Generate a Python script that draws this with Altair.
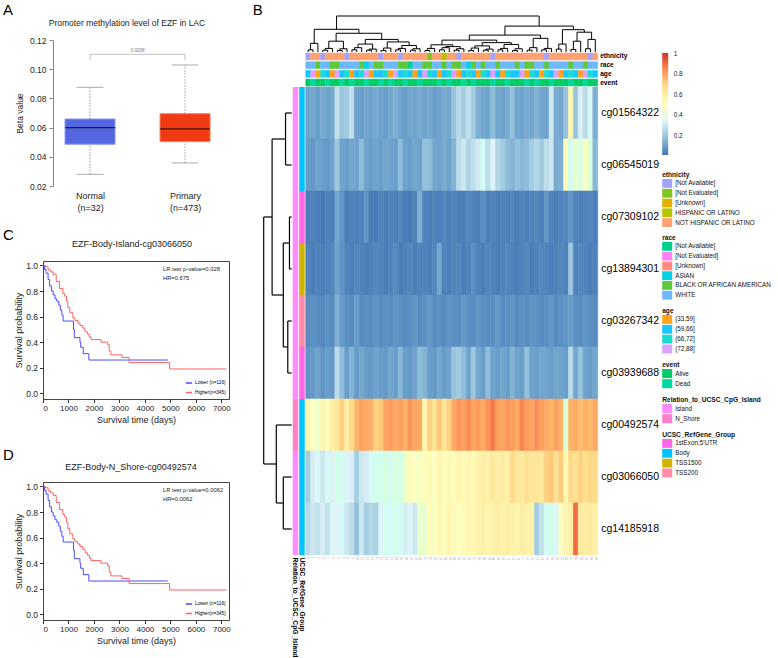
import altair as alt
import numpy as np
import pandas as pd

FONT = "Liberation Sans"

# ---------------- Panel A: promoter methylation box plot ----------------
A_TITLE = "Promoter methylation level of EZF in LAC"
A_GROUPS = ["Normal", "Primary"]
A_N = [32, 473]
A_LOW = [0.0280, 0.0358]
A_Q1 = [0.0486, 0.0504]
A_MED = [0.0600, 0.0591]
A_Q3 = [0.0659, 0.0695]
A_HIGH = [0.0876, 0.1029]
A_PVAL = "0.0208"
A_BRACKET_TOP = 0.1102
A_BRACKET_BOTTOM = 0.1063
A_YTICKS = [0.02, 0.04, 0.06, 0.08, 0.10, 0.12]
A_FILL = ["#5567E0", "#F03A12"]
A_EDGE = ["#8C98F0", "#F87A5C"]

# ---------------- Panels C / D: Kaplan-Meier ----------------
KM_GROUPS = ["Lower (n=116)", "Higher(n=345)"]
KM_COLORS = ["#3838FF", "#FF5252"]
LOW_T = [0, 60, 120, 200, 260, 330, 400, 470, 540, 620, 680, 740, 790, 1170, 1200,
         1230, 1420, 1450, 1480, 1560, 1580, 1780, 1800, 4900]
LOW_S = [1.0, 0.97, 0.94, 0.89, 0.84, 0.80, 0.77, 0.74, 0.72, 0.69, 0.65, 0.61, 0.565,
         0.565, 0.50, 0.435, 0.435, 0.40, 0.36, 0.36, 0.31, 0.31, 0.26, 0.26]
HIGH_T = [0, 100, 200, 300, 400, 520, 650, 780, 850, 920, 975, 1050, 1170, 1250, 1365,
          1450, 1560, 1650, 1755, 1820, 1885, 2275, 2535, 2600, 2665, 3100, 3380, 4970, 7200]
HIGH_S = [1.0, 0.99, 0.965, 0.95, 0.93, 0.875, 0.82, 0.78, 0.76, 0.72, 0.67, 0.63, 0.59,
          0.57, 0.55, 0.53, 0.51, 0.48, 0.46, 0.44, 0.42, 0.40, 0.38, 0.33, 0.30, 0.28,
          0.24, 0.19, 0.19]
KM_XTICKS = [0, 1000, 2000, 3000, 4000, 5000, 6000, 7000]
KM_YTICKS = [0.0, 0.2, 0.4, 0.6, 0.8, 1.0]
C_TITLE = "EZF-Body-Island-cg03066050"
C_STATS = ["LR test p-value=0.028", "HR=0.675"]
D_TITLE = "EZF-Body-N_Shore-cg00492574"
D_STATS = ["LR test p-value=0.0062", "HR=0.0062"]

# ---------------- Panel B: heatmap ----------------
PROBES = ["cg01564322", "cg06545019", "cg07309102", "cg13894301", "cg03267342",
          "cg03939688", "cg00492574", "cg03066050", "cg14185918"]
BETA_CG01564322 = [0.11,0.12,0.10,0.13,0.11,0.12, 0.28,0.19,0.21,0.28, 0.11,0.10,0.12,0.11,0.13,0.11,0.10,0.12,0.14,0.11,
                   0.10,0.12,0.11,0.13,0.11,0.12,0.10,0.11,0.13,0.12, 0.19,0.26,0.22,0.28,0.21, 0.14,0.12,0.11,0.17,0.12,
                   0.11,0.13,0.18,0.12,0.11, 0.13,0.12,0.15,0.12,0.11, 0.30,0.13,0.12,0.19,0.55,0.19,0.33,0.26,0.36,0.14]
BETA_CG06545019 = [0.10,0.09,0.11,0.10,0.09,0.11, 0.20, 0.11,0.10,0.12,0.11,0.17,0.11, 0.10,0.11,0.10,0.12,0.11,0.10,0.17,
                   0.11,0.10,0.12,0.11,0.18, 0.17,0.12,0.11,0.13,0.11,0.15, 0.27,0.30,0.24,0.28,0.31,0.40,0.27,0.35,0.25,0.22,
                   0.17,0.15,0.18,0.16,0.17, 0.22,0.25,0.21,0.27, 0.30,0.13,0.14, 0.52,0.40,0.48,0.43,0.50,0.45, 0.16]
BETA_CG07309102 = [0.03,0.04,0.03,0.02,0.04,0.03,0.12,0.08,0.03,0.04, 0.03,0.04,0.08,0.03,0.02,0.04,0.03,0.04,0.03,0.05,
                   0.03,0.02,0.04,0.14,0.04,0.03,0.04,0.03,0.05,0.03, 0.04,0.03,0.03,0.05,0.04,0.03,0.07,0.03,0.04,0.03,
                   0.04,0.03,0.05,0.03,0.04,0.03,0.04,0.05,0.03,0.08, 0.04,0.03,0.04,0.05,0.08,0.04,0.03,0.04,0.05,0.03]
BETA_CG13894301 = [0.04,0.03,0.04,0.03,0.04,0.05,0.11,0.08,0.04,0.03, 0.05,0.04,0.03,0.04,0.05,0.04,0.03,0.04,0.06,0.03,
                   0.04,0.05,0.03,0.04,0.04,0.03,0.05,0.12,0.04,0.03, 0.04,0.05,0.03,0.04,0.07,0.04,0.03,0.05,0.04,0.03,
                   0.04,0.05,0.04,0.03,0.04,0.05,0.03,0.04,0.05,0.04, 0.03,0.04,0.05,0.04,0.20,0.04,0.05,0.04,0.03,0.04]
BETA_CG03267342 = [0.06,0.07,0.06,0.05,0.07,0.06,0.14,0.09,0.07,0.06, 0.10,0.06,0.07,0.06,0.08,0.06,0.07,0.06,0.08,0.07,
                   0.06,0.07,0.08,0.06,0.07,0.09,0.06,0.07,0.06,0.08, 0.07,0.06,0.09,0.07,0.06,0.08,0.07,0.06,0.07,0.09,
                   0.06,0.07,0.08,0.06,0.07,0.06,0.08,0.07,0.06,0.07, 0.09,0.06,0.07,0.08,0.10,0.07,0.06,0.08,0.07,0.06]
BETA_CG03939688 = [0.08,0.09,0.11,0.08,0.10,0.09,0.26,0.17,0.10,0.15, 0.09,0.12,0.10,0.09,0.11,0.10,0.09,0.12,0.10,0.16,
                   0.10,0.09,0.11,0.17,0.15,0.10,0.09,0.12,0.10,0.11, 0.19,0.21,0.17,0.11,0.20,0.12,0.10,0.17,0.11,0.10,
                   0.12,0.10,0.15,0.11,0.10,0.18,0.11,0.10,0.12,0.11, 0.10,0.12,0.11,0.10,0.26,0.12,0.19,0.11,0.10,0.12]
BETA_CG00492574 = [0.55,0.50,0.48,0.55,0.52,0.60, 0.62,0.70,0.60,0.68, 0.76,0.80,0.78,0.77,0.70,0.72,0.79,0.81,0.78,0.80,
                   0.77,0.82,0.79,0.78, 0.55,0.70,0.66,0.72,0.64,0.70, 0.78,0.82,0.80,0.84,0.79,0.81,0.78,0.83,0.87,0.80,
                   0.79,0.82,0.80,0.78,0.85,0.81,0.79,0.83,0.80, 0.78,0.76,0.80,0.77, 0.45, 0.76,0.78,0.74,0.77,0.75,0.78]
BETA_CG03066050 = [0.22,0.32,0.36,0.30,0.38,0.34, 0.42,0.40,0.35,0.33, 0.22,0.30,0.32, 0.38,0.42,0.40,0.44,0.39,0.45,0.42,
                   0.48,0.52,0.50,0.49,0.52, 0.53,0.50,0.55,0.52,0.54,0.51,0.56,0.53,0.55,0.52, 0.57,0.60,0.58,0.62,0.59,
                   0.61,0.58, 0.68,0.63,0.62,0.66,0.64,0.65,0.62, 0.70,0.72,0.66,0.71, 0.55, 0.68,0.66,0.70,0.67,0.69,0.68]
BETA_CG14185918 = [0.26,0.30,0.28,0.32,0.28,0.36,0.34,0.37,0.30,0.27, 0.18,0.30,0.22,0.25,0.23,0.35,0.40,0.38,0.42,0.39,
                   0.32,0.35,0.30,0.48,0.47, 0.52,0.50,0.54,0.51,0.55,0.52,0.50,0.53,0.55,0.54, 0.57,0.59,0.56,0.58,0.60,
                   0.57,0.59,0.58,0.56,0.60,0.58,0.57, 0.22,0.28,0.40,0.42,0.36,0.50,0.56,0.58,0.90,0.62,0.60,0.61,0.59]
BETA_ROWS = [BETA_CG01564322, BETA_CG06545019, BETA_CG07309102, BETA_CG13894301, BETA_CG03267342,
             BETA_CG03939688, BETA_CG00492574, BETA_CG03066050, BETA_CG14185918]
HEAT_MIN, HEAT_MAX = 0.01, 1.0
HEAT_COLORS = ["#4575B4", "#91BFDB", "#E0F3F8", "#FFFFBF", "#FEE090", "#FC8D59", "#D73027"]
CB_TICKS = [0.2, 0.4, 0.6, 0.8, 1.0]

# row annotations
RELATION = ["Island", "Island", "Island", "Island", "Island", "Island", "N_Shore", "Island", "Island"]
REFGENE = ["Body", "Body", "1stExon;5'UTR", "TSS1500", "TSS200", "1stExon;5'UTR", "Body", "Body", "Body"]

# column annotations (category codes per column)
ETHNICITY = [0,4,4,0,4,4,4,4,0,4, 4,4,4,4,4,0,4,4,4,0, 4,4,4,4,4,1,4,4,3,4,
             4,0,4,4,4,4,4,4,0,4, 4,4,4,4,4,4,4,4,4,0, 4,4,4,4,4,4,4,4,0,4]
RACE = [5,5,4,5,5,4,4,5,5,5, 5,4,3,5,4,4,5,5,5,4, 4,0,5,5,4,4,5,5,4,5,
        4,4,5,3,4,5,4,5,5,4, 5,5,5,4,5,4,4,5,5,4, 5,5,5,5,4,5,5,4,5,5]
AGE = [1,3,0,2,1,0,3,1,2,0, 1,2,3,0,1,1,2,0,3,1, 2,1,0,1,3,2,1,0,1,2,
       3,0,1,2,1,0,2,1,3,1, 0,2,1,1,3,0,2,1,0,2, 1,3,0,1,2,1,0,3,2,1]
EVENT = [0,1,0,0,1,0,0,1,0,1, 0,0,1,0,0,1,0,1,0,0, 1,0,0,1,0,0,0,1,0,1,
         0,0,1,0,1,0,0,0,1,0, 0,1,0,0,0,1,0,1,0,0, 1,0,0,0,1,0,0,1,0,0]

ETH_LEVELS = ["[Not Available]", "[Not Evaluated]", "[Unknown]", "HISPANIC OR LATINO", "NOT HISPANIC OR LATINO"]
ETH_COLORS = ["#A4A4F8", "#80C41C", "#E2B000", "#B4C400", "#FFA070"]
RACE_LEVELS = ["[Not Available]", "[Not Evaluated]", "[Unknown]", "ASIAN", "BLACK OR AFRICAN AMERICAN", "WHITE"]
RACE_COLORS = ["#00D08A", "#FF80F5", "#FF8A80", "#00D2E6", "#5EC83C", "#6CB8FF"]
AGE_LEVELS = ["(33,59]", "(59,66]", "(66,72]", "(72,88]"]
AGE_COLORS = ["#FFA41A", "#1AC6FF", "#1ADCD0", "#D7A3FF"]
EVENT_LEVELS = ["Alive", "Dead"]
EVENT_COLORS = ["#00CC66", "#00D9A0"]
REL_LEVELS = ["Island", "N_Shore"]
REL_COLORS = ["#FF8CFF", "#FF80C8"]
REFG_LEVELS = ["1stExon;5'UTR", "Body", "TSS1500", "TSS200"]
REFG_COLORS = ["#FF66E6", "#00C4FF", "#CCB400", "#FF8AAA"]

# dendrograms: small 3-leaf clusters (first leaf, inner height, outer height)
TOP_CLUSTERS = [(0, 0.06, 0.24), (3, 0.05, 0.10), (6, 0.04, 0.09), (9, 0.06, 0.12), (12, 0.05, 0.08),
                (15, 0.04, 0.11), (18, 0.06, 0.10), (21, 0.05, 0.09), (24, 0.04, 0.10), (27, 0.06, 0.12),
                (30, 0.05, 0.09), (33, 0.04, 0.11), (36, 0.05, 0.08), (39, 0.06, 0.10), (42, 0.04, 0.09),
                (45, 0.05, 0.12), (48, 0.06, 0.10), (51, 0.08, 0.22), (54, 0.07, 0.30), (57, 0.09, 0.35)]
# upper structure built on cluster indices: [height, left, right]
TOP_TREE = [1.0,
            [0.63, 0, [0.52, [0.30, 1, 2], [0.35, [0.22, 3, 4], [0.28, 5, [0.18, 6, 7]]]]],
            [0.72,
             [0.47,
              [0.33, [0.20, 8, [0.15, 9, 10]], [0.26, [0.17, 11, 12], [0.21, 13, 14]]],
              [0.38, 15, 16]],
             [0.62, 17, [0.55, 18, 19]]]]
ROW_TREE = [1.0, [0.70, [0.22, 0, 1], [0.30, [0.08, 2, 3], [0.14, 4, 5]]], [0.55, 6, [0.30, 7, 8]]]

NCOL = len(BETA_CG01564322)


# ---------------- helpers ----------------
IND = dict(color="independent", stroke="independent")


def vflush(*charts):
    return alt.vconcat(*charts, spacing=0, bounds="flush").resolve_scale(**IND)


def blank(w, h):
    return alt.Chart(pd.DataFrame({"z": [0]})).mark_rect(opacity=0).encode(
        x=alt.value(0), x2=alt.value(w), y=alt.value(0), y2=alt.value(h)).properties(width=w, height=h)


def letter(ch, dx, dy):
    return alt.Chart(pd.DataFrame({"t": [ch]})).mark_text(
        fontSize=15, font=FONT, align="left", baseline="alphabetic", color="black"
    ).encode(text="t:N", x=alt.value(dx), y=alt.value(dy))


def panel_title(text, cx, cy, size):
    return alt.Chart(pd.DataFrame({"t": [text]})).mark_text(
        fontSize=size, font=FONT, align="center", baseline="middle", color="#222"
    ).encode(text="t:N", x=alt.value(cx), y=alt.value(cy))


def expand_top(node):
    if isinstance(node, int):
        a, h_in, h_out = TOP_CLUSTERS[node]
        return [h_out, [h_in, a, a + 1], a + 2]
    h, l, r = node
    return [h, expand_top(l), expand_top(r)]


def dendro_segments(tree):
    segs = []

    def walk(n):
        if isinstance(n, int):
            return n + 0.5, 0.0
        h, l, r = n
        pl, hl = walk(l)
        pr, hr = walk(r)
        segs.append((pl, pl, hl, h))
        segs.append((pr, pr, hr, h))
        segs.append((pl, pr, h, h))
        return (pl + pr) / 2, h

    walk(tree)
    return pd.DataFrame(segs, columns=["p1", "p2", "h1", "h2"])


# ---------------- Panel A ----------------
WA, HA = 179, 146
dfA = pd.DataFrame({"group": A_GROUPS, "lo": A_LOW, "q1": A_Q1, "med": A_MED, "q3": A_Q3, "hi": A_HIGH})
label_expr = (f"datum.value == '{A_GROUPS[0]}' ? ['{A_GROUPS[0]}', '(n={A_N[0]})'] : "
              f"['{A_GROUPS[1]}', '(n={A_N[1]})']")
xA = alt.X("group:N", sort=A_GROUPS, scale=alt.Scale(type="point", padding=0.442, align=0.56),
           axis=alt.Axis(title=None, labelExpr=label_expr, labelAngle=0, ticks=False, domain=False,
                         labelFontSize=9, labelPadding=5, labelLineHeight=12, labelColor="#222",
                         labelBaseline="top"))
ysA = alt.Scale(domain=[0.02, 0.12], nice=False, zero=False)
yAxisA = alt.Axis(title="Beta value", values=A_YTICKS, format=".2f", tickSize=4, tickColor="#888",
                  domainColor="#888", labelFontSize=8.5, labelColor="#222", titleFontSize=8.5,
                  titleFontWeight="normal", titleColor="#222", labelPadding=3, titlePadding=5, offset=-10)


def yA(field):
    return alt.Y(field, scale=ysA, axis=yAxisA)


baseA = alt.Chart(dfA)
box = baseA.mark_bar(size=50, strokeWidth=1).encode(
    x=xA, y=yA("q1:Q"), y2="q3:Q",
    color=alt.Color("group:N", scale=alt.Scale(domain=A_GROUPS, range=A_FILL), legend=None),
    stroke=alt.Stroke("group:N", scale=alt.Scale(domain=A_GROUPS, range=A_EDGE), legend=None))
whisk_hi = baseA.mark_rule(color="#9a9a9a", strokeDash=[1.5, 1.5], strokeWidth=1).encode(
    x=xA, y=yA("q3:Q"), y2="hi:Q")
whisk_lo = baseA.mark_rule(color="#9a9a9a", strokeDash=[1.5, 1.5], strokeWidth=1).encode(
    x=xA, y=yA("lo:Q"), y2="q1:Q")
cap_hi = baseA.mark_tick(color="#888", size=27, thickness=1).encode(x=xA, y=yA("hi:Q"))
cap_lo = baseA.mark_tick(color="#888", size=27, thickness=1).encode(x=xA, y=yA("lo:Q"))
med = baseA.mark_tick(color="black", size=50, thickness=1.3).encode(x=xA, y=yA("med:Q"))
dfSig = pd.DataFrame({"group": A_GROUPS, "top": [A_BRACKET_TOP] * 2, "bot": [A_BRACKET_BOTTOM] * 2})
sig_line = alt.Chart(dfSig).mark_line(color="#b0b0b0", strokeWidth=0.8).encode(x=xA, y=yA("top:Q"))
sig_drop = alt.Chart(dfSig).mark_rule(color="#b0b0b0", strokeWidth=0.8).encode(
    x=xA, y=yA("bot:Q"), y2="top:Q")
sig_txt = alt.Chart(pd.DataFrame({"p": [A_PVAL], "top": [A_BRACKET_TOP]})).mark_text(
    fontSize=4.5, color="#777", dy=-3.5, font=FONT).encode(
    x=alt.value(94.5), y=yA("top:Q"), text="p:N")
panelA = alt.layer(box, whisk_hi, whisk_lo, cap_hi, cap_lo, med, sig_line, sig_drop, sig_txt,
                   panel_title(A_TITLE, 84, -17, 8.5),
                   letter("A", -40, -25)).properties(width=WA, height=HA)


# ---------------- Panels C / D ----------------
def km_panel(title, stats, ch, title_cx, title_cy, letter_dy):
    df = pd.concat([pd.DataFrame({"t": LOW_T, "s": LOW_S, "g": KM_GROUPS[0]}),
                    pd.DataFrame({"t": HIGH_T, "s": HIGH_S, "g": KM_GROUPS[1]})], ignore_index=True)
    xs = alt.Scale(domain=[0, 7300], nice=False, zero=False)
    ys = alt.Scale(domain=[-0.045, 1.035], nice=False, zero=False)
    lines = alt.Chart(df).mark_line(interpolate="step-after", strokeWidth=1, opacity=0.9).encode(
        x=alt.X("t:Q", scale=xs, axis=alt.Axis(
            title="Survival time (days)", values=KM_XTICKS, format="d", labelFontSize=8, tickSize=3.5,
            tickColor="#333", domain=False, labelPadding=2, titleFontSize=9, titleFontWeight="normal",
            titlePadding=3, labelColor="#222", titleColor="#222", labelOverlap=False)),
        y=alt.Y("s:Q", scale=ys, axis=alt.Axis(
            title="Survival probability", values=KM_YTICKS, format=".1f", labelFontSize=8.5, tickSize=3.5,
            tickColor="#333", domain=False, labelPadding=2, titleFontSize=9, titleFontWeight="normal",
            titlePadding=2, labelColor="#222", titleColor="#222")),
        color=alt.Color("g:N", sort=KM_GROUPS, scale=alt.Scale(domain=KM_GROUPS, range=KM_COLORS),
                        legend=alt.Legend(title=None, orient="bottom-right", offset=2, symbolType="stroke",
                                          symbolSize=40, symbolStrokeWidth=1.5, labelFontSize=4.8,
                                          labelFont=FONT, rowPadding=2.5, padding=1, labelOffset=2)))
    txt = alt.Chart(pd.DataFrame({"z": [0]})).mark_text(
        text=stats, fontSize=5.8, font=FONT, align="left", baseline="top", lineHeight=9, color="#222"
    ).encode(x=alt.value(120), y=alt.value(5))
    return alt.layer(lines, txt, panel_title(title, title_cx, title_cy, 9),
                     letter(ch, -40, letter_dy)).properties(
        width=186, height=138, view=alt.ViewBackground(stroke="#444", strokeWidth=1))


panelC = km_panel(C_TITLE, C_STATS, "C", 89, -17, -21)
panelD = km_panel(D_TITLE, D_STATS, "D", 88, -15.5, -22)

# ---------------- Panel B ----------------
HM_W, HM_H = 292, 468
heat_domain = [float(v) for v in np.linspace(HEAT_MIN, HEAT_MAX, len(HEAT_COLORS))]
heat_scale = alt.Scale(domain=heat_domain, range=HEAT_COLORS, clamp=True)

dfHM = pd.DataFrame([{"probe": p, "col": c, "beta": v}
                     for p, row in zip(PROBES, BETA_ROWS) for c, v in enumerate(row)])
heatmap = alt.Chart(dfHM).mark_rect(strokeWidth=0.6).encode(
    x=alt.X("col:O", scale=alt.Scale(paddingInner=0, paddingOuter=0),
            axis=alt.Axis(title=None, ticks=False, domain=False, labelFontSize=2.6, labelColor="#9a9a9a",
                          labelAngle=90, labelPadding=1.5, labelAlign="left", labelBaseline="middle",
                          labelOverlap=False)),
    y=alt.Y("probe:N", sort=PROBES, scale=alt.Scale(paddingInner=0, paddingOuter=0),
            axis=alt.Axis(orient="right", title=None, ticks=False, domain=False, labelFontSize=10.5,
                          labelPadding=3, labelColor="black")),
    color=alt.Color("beta:Q", scale=heat_scale, legend=None),
    stroke=alt.Stroke("beta:Q", scale=heat_scale, legend=None),
).properties(width=HM_W, height=HM_H)

# column annotation tracks
CA_TRACKS = ["ethnicity", "race", "age", "event"]
CA_CODES = [ETHNICITY, RACE, AGE, EVENT]
CA_LEVELS = [ETH_LEVELS, RACE_LEVELS, AGE_LEVELS, EVENT_LEVELS]
CA_COLS = [ETH_COLORS, RACE_COLORS, AGE_COLORS, EVENT_COLORS]
ca_keys, ca_colors = [], []
for tr, lv, cl in zip(CA_TRACKS, CA_LEVELS, CA_COLS):
    for l, c in zip(lv, cl):
        ca_keys.append(f"{tr}|{l}")
        ca_colors.append(c)
dfCA = pd.DataFrame([{"track": tr, "col": i, "key": f"{tr}|{lv[code]}"}
                     for tr, codes, lv in zip(CA_TRACKS, CA_CODES, CA_LEVELS)
                     for i, code in enumerate(codes)])
ca_scale = alt.Scale(domain=ca_keys, range=ca_colors)
col_annot = alt.Chart(dfCA).mark_rect(strokeWidth=0.5).encode(
    x=alt.X("col:O", scale=alt.Scale(paddingInner=0, paddingOuter=0), axis=None),
    y=alt.Y("track:N", sort=CA_TRACKS, scale=alt.Scale(paddingInner=0.2, paddingOuter=0),
            axis=alt.Axis(orient="right", title=None, ticks=False, domain=False, labelFontSize=6.6,
                          labelFontWeight="bold", labelPadding=2, labelColor="black")),
    color=alt.Color("key:N", scale=ca_scale, legend=None),
    stroke=alt.Stroke("key:N", scale=ca_scale, legend=None),
).properties(width=HM_W, height=33)

# row annotation tracks
RA_TRACKS = ["Relation_to_UCSC_CpG_Island", "UCSC_RefGene_Group"]
ra_keys = [f"{RA_TRACKS[0]}|{l}" for l in REL_LEVELS] + [f"{RA_TRACKS[1]}|{l}" for l in REFG_LEVELS]
ra_colors = REL_COLORS + REFG_COLORS
dfRA = pd.DataFrame([{"track": RA_TRACKS[0], "probe": p, "key": f"{RA_TRACKS[0]}|{v}"}
                     for p, v in zip(PROBES, RELATION)] +
                    [{"track": RA_TRACKS[1], "probe": p, "key": f"{RA_TRACKS[1]}|{v}"}
                     for p, v in zip(PROBES, REFGENE)])
row_annot = alt.Chart(dfRA).mark_rect().encode(
    x=alt.X("track:N", sort=RA_TRACKS, scale=alt.Scale(paddingInner=0.15, paddingOuter=0),
            axis=alt.Axis(title=None, ticks=False, domain=False, labelAngle=90, labelAlign="left",
                          labelBaseline="middle", labelFontSize=6.7, labelFontWeight="bold",
                          labelPadding=2, labelColor="black")),
    y=alt.Y("probe:N", sort=PROBES, scale=alt.Scale(paddingInner=0, paddingOuter=0), axis=None),
    color=alt.Color("key:N", scale=alt.Scale(domain=ra_keys, range=ra_colors), legend=None),
).properties(width=12, height=HM_H)

# dendrograms
segTop = dendro_segments(expand_top(TOP_TREE))
top_dendro = alt.layer(
    alt.Chart(segTop).mark_rule(color="black", strokeWidth=1).encode(
        x=alt.X("p1:Q", scale=alt.Scale(domain=[0, NCOL], nice=False, zero=False), axis=None),
        x2="p2:Q",
        y=alt.Y("h1:Q", scale=alt.Scale(domain=[0, 1], nice=False, zero=False), axis=None),
        y2="h2:Q"),
    letter("B", -53, -1)).properties(width=HM_W, height=36)

segRow = dendro_segments(ROW_TREE)
row_dendro = alt.Chart(segRow).mark_rule(color="black", strokeWidth=1.2).encode(
    x=alt.X("h1:Q", scale=alt.Scale(domain=[1, 0], nice=False, zero=False), axis=None),
    x2="h2:Q",
    y=alt.Y("p1:Q", scale=alt.Scale(domain=[0, len(PROBES)], nice=False, zero=False, reverse=True), axis=None),
    y2="p2:Q").properties(width=28, height=HM_H)

B_grid = alt.concat(blank(28, 36), blank(12, 36), top_dendro,
                    blank(28, 33), blank(12, 33), col_annot,
                    row_dendro, row_annot, heatmap,
                    columns=3, spacing={"row": 1, "column": 1}, bounds="flush").resolve_scale(**IND)

# ---------------- legends ----------------
grad = alt.Gradient(gradient="linear",
                    stops=[alt.GradientStop(color=c, offset=float(o))
                           for c, o in zip(HEAT_COLORS, np.linspace(0, 1, len(HEAT_COLORS)))],
                    x1=0, x2=0, y1=1, y2=0)
colorbar = alt.Chart(pd.DataFrame({"lo": [HEAT_MIN], "hi": [HEAT_MAX]})).mark_rect(fill=grad).encode(
    x=alt.value(0), x2=alt.value(6),
    y=alt.Y("lo:Q", scale=alt.Scale(domain=[HEAT_MIN, HEAT_MAX], nice=False, zero=False),
            axis=alt.Axis(orient="right", values=CB_TICKS, format="~g", ticks=False, domain=False,
                          labelFontSize=6.5, labelPadding=5, title=None, labelColor="#222")),
    y2="hi:Q").properties(width=6, height=102)

LEG_STEP = 9.6


def legend_group(title, levels, colors):
    df = pd.DataFrame({"label": levels})
    y = alt.Y("label:N", sort=levels, axis=None, scale=alt.Scale(paddingInner=0.1, paddingOuter=0))
    sq = alt.Chart(df).mark_rect().encode(
        y=y, x=alt.value(0), x2=alt.value(10),
        color=alt.Color("label:N", scale=alt.Scale(domain=levels, range=colors), legend=None))
    tx = alt.Chart(df).mark_text(align="left", baseline="middle", fontSize=6.3, font=FONT,
                                 color="#111").encode(y=y, x=alt.value(13), text="label:N")
    hd = alt.Chart(pd.DataFrame({"t": [title]})).mark_text(
        align="left", baseline="alphabetic", fontSize=6.6, fontWeight="bold", font=FONT, color="#111"
    ).encode(text="t:N", x=alt.value(0), y=alt.value(-2.5))
    return alt.layer(sq, tx, hd).properties(width=10, height=LEG_STEP * len(levels))


legend_col = vflush(blank(1, 37), colorbar, blank(1, 23.7),
                    legend_group("ethnicity", ETH_LEVELS, ETH_COLORS), blank(1, 15),
                    legend_group("race", RACE_LEVELS, RACE_COLORS), blank(1, 15),
                    legend_group("age", AGE_LEVELS, AGE_COLORS), blank(1, 15),
                    legend_group("event", EVENT_LEVELS, EVENT_COLORS), blank(1, 15),
                    legend_group(RA_TRACKS[0], REL_LEVELS, REL_COLORS), blank(1, 15),
                    legend_group(RA_TRACKS[1], REFG_LEVELS, REFG_COLORS))

# ---------------- assemble ----------------
left_col = vflush(blank(1, 24), panelA, blank(1, 75), panelC, blank(1, 83), panelD)

inner = alt.hconcat(left_col, B_grid, spacing=21.7).resolve_scale(**IND)
chart = alt.hconcat(inner, legend_col, spacing=3.2).resolve_scale(**IND).properties(
    padding={"left": 2, "top": 3, "right": 0, "bottom": 0}
).configure(font=FONT).configure_view(stroke=None).configure_axis(
    labelFont=FONT, titleFont=FONT, grid=False).configure_title(font=FONT).configure_legend(labelFont=FONT)

chart.save("out.html", embed_options={"renderer": "svg", "actions": False})
